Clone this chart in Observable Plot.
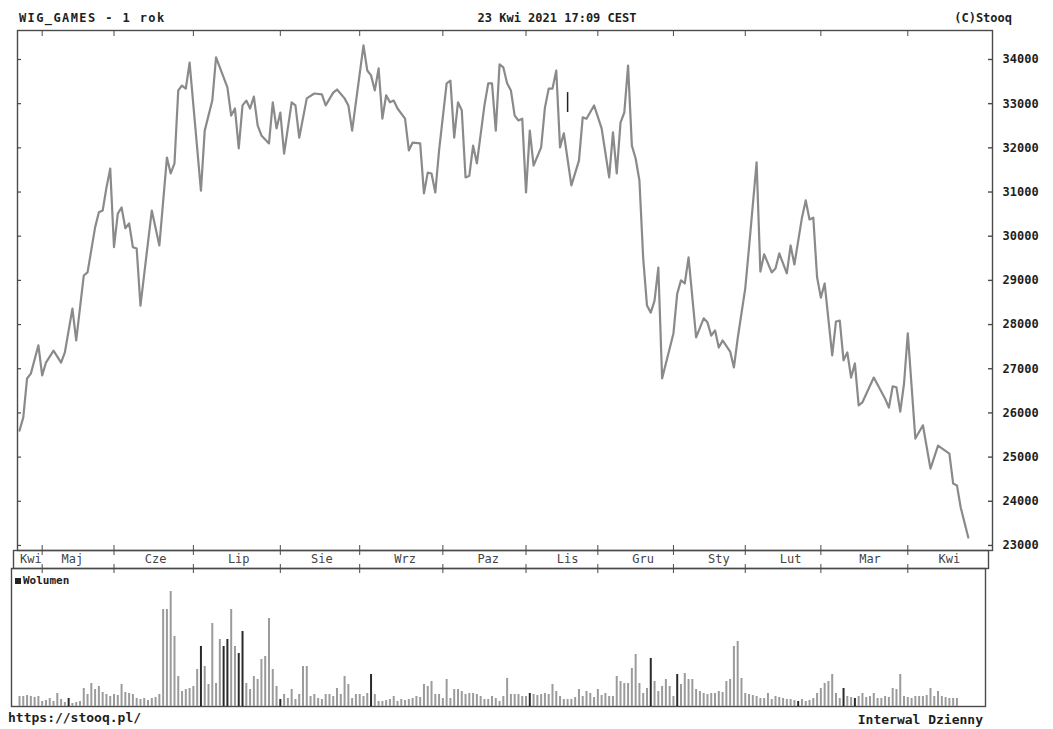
<!DOCTYPE html>
<html><head><meta charset="utf-8">
<script src="https://cdn.jsdelivr.net/npm/d3@7"></script>
<script src="https://cdn.jsdelivr.net/npm/@observablehq/plot@0.6"></script>
<style>
body{margin:0;background:#fff;}
#wrap{position:relative;width:1053px;height:729px;overflow:hidden;font-family:"DejaVu Sans Mono",monospace;font-weight:bold;color:#1e1e1e;}
.t{position:absolute;font-size:12px;white-space:nowrap;line-height:14px;}
.p{position:absolute;left:0;}
</style></head><body>
<div id="wrap">
  <div class="t" style="left:19px;top:11px;letter-spacing:1.4px;">WIG_GAMES - 1 rok</div>
  <div class="t" style="left:557px;top:11px;transform:translateX(-50%);">23 Kwi 2021 17:09 CEST</div>
  <div class="t" style="right:41px;top:11px;">(C)Stooq</div>
  <div class="p" id="main" style="top:30px;"></div>
  <div class="p" id="strip" style="top:550px;"></div>
  <div class="p" id="vol" style="top:568px;"></div>
  <div class="t" style="left:15px;top:574px;font-size:11px;"><span style="display:inline-block;width:6px;height:6px;background:#222;margin-right:2px;"></span>Wolumen</div>
  <div class="t" style="left:8px;top:711px;font-size:13px;">https://stooq.pl/</div>
  <div class="t" style="right:70px;top:713px;font-size:13px;">Interwal Dzienny</div>
</div>
<script>
// ---- price: session number (trading day since 23 Apr 2020) and close ----
const sessions = [0,1,2,3,5,6,7,9,11,12,14,15,17,18,20,21,22,23,24,25,26,27,28,29,30,31,32,35,37,39,40,41,42,43,44,45,48,49,51,52,55,56,57,58,59,60,61,62,63,64,66,67,68,69,70,72,73,74,76,78,80,81,83,84,86,87,88,91,92,93,94,95,96,97,98,99,100,102,103,104,106,107,108,109,110,111,113,114,115,116,117,118,119,120,121,123,124,125,126,127,128,129,130,131,132,133,134,135,136,138,139,140,141,142,143,144,146,148,149,150,152,154,156,157,158,159,160,161,162,163,164,165,166,167,168,169,170,173,174,175,176,177,179,181,182,183,184,185,186,188,189,190,192,193,195,196,197,199,200,201,203,204,205,207,208,209,210,211,212,213,215,216,217,218,219,220,221,222,223,226,229,230,231,232,233,234,235,237,239,241,243,246,247,248,249,251];
const closes = [25600,25900,26780,26890,27530,26850,27140,27410,27140,27370,28360,27640,29110,29180,30200,30540,30580,31100,31530,29750,30510,30650,30180,30290,29750,29720,28430,30580,29790,31780,31420,31650,33300,33410,33340,33930,31030,32390,33070,34050,33370,32730,32890,31990,32960,33070,32890,33160,32510,32280,32100,33030,32440,32800,31870,33030,32960,32230,33120,33230,33210,32960,33250,33320,33120,32960,32390,34320,33750,33640,33300,33800,32660,33190,33030,33070,32890,32660,31940,32120,32100,30970,31440,31420,30990,31940,33460,33520,32230,33030,32850,31330,31370,32050,31650,32960,33460,33460,32390,33890,33820,33460,33300,32730,32620,32660,30990,32390,31600,32010,32910,33340,33340,33750,32010,32330,31150,31710,32690,32660,32960,32440,31330,32350,31420,32570,32800,33860,32050,31760,31260,29500,28430,28270,28540,29290,26780,27800,28700,29000,28930,29520,27710,28140,28050,27750,27870,27480,27640,27390,27030,27690,28820,29750,31670,29200,29590,29180,29270,29610,29160,29790,29360,30420,30810,30380,30420,29070,28610,28930,27300,28070,28090,27190,27370,26800,27120,26170,26240,26800,26320,26120,26600,26580,26030,26660,27800,25420,25720,24740,25260,25080,24400,24360,23860,23180];
// small dark tick seen on the chart (session, low, high)
const markSession = [145], markLow = [32800], markHigh = [33250];

// ---- volume (relative units), one per session from 0 ----
const volume = [10,10,11,10,9,10,5,6,8,5,13,7,4,8,3,4,5,18,12,23,17,20,14,12,10,12,11,22,14,13,12,8,7,8,6,8,9,12,
97,97,115,70,30,15,17,18,20,37,60,40,22,83,23,67,60,67,97,60,53,75,23,17,30,27,47,50,88,37,20,7,12,8,17,7,12,40,40,10,12,8,7,12,12,
10,18,12,30,22,8,12,12,10,13,32,12,5,5,6,7,10,5,7,6,7,8,10,9,22,20,25,12,12,8,27,8,17,17,15,12,13,13,12,10,7,7,10,8,5,10,28,12,12,12,
10,10,13,12,11,12,13,12,22,15,10,7,7,7,9,17,10,15,13,9,17,11,13,10,10,30,25,23,23,38,52,23,13,18,48,25,15,20,27,20,10,32,22,33,27,27,17,15,13,12,13,13,15,14,25,27,60,65,28,13,12,11,10,8,8,13,7,10,9,8,7,7,6,5,7,5,6,8,13,18,23,25,32,13,8,18,10,9,8,10,13,9,10,13,8,8,10,9,18,17,32,10,9,8,10,10,10,11,18,10,15,10,9,8,8,8];
const volumeDark = [13,48,54,55,58,59,69,93,135,167,174,206,218,221];

// ---- axes ----
const priceTicks = [23000,24000,25000,26000,27000,28000,29000,30000,31000,32000,33000,34000];
const monthNames = ["Kwi","Maj","Cze","Lip","Sie","Wrz","Paz","Lis","Gru","Sty","Lut","Mar","Kwi"];
const monthLabelSession = [3,14,36,58,80,102,124,145,165,185,204,225,246];
const monthStartSession = [6,25,46,69,90,112,134,153,173,192,212,235];

// build tables
const price = sessions.map((s,i)=>({s, close: closes[i]}));
const marks = markSession.map((s,i)=>({s, lo: markLow[i], hi: markHigh[i]}));
const vol = volume.map((v,s)=>({s, v, dark: volumeDark.includes(s)}));
const months = monthNames.map((name,i)=>({name, s: monthLabelSession[i]}));

// layout: session s sits at page x = 19 + 3.78*s
const W = 1053, px0 = 19, step = 3.78;
const dom = (l, r) => [(l-px0)/step, (r-px0)/step];
const FRAME = "#4a4a4a";
const blank = () => "";
const style = {fontFamily:"'DejaVu Sans Mono', monospace", fontWeight:"bold", fontSize:"12px", color:"#1e1e1e", background:"transparent", overflow:"visible"};

const mainL = 17, mainR = 992;
const main = Plot.plot({
  width: W, height: 520, marginLeft: mainL, marginRight: W-mainR, marginTop: 0, marginBottom: 0,
  style,
  x: {domain: dom(mainL, mainR), label: null},
  y: {domain: [22886, 34656], label: null},
  marks: [
    Plot.frame({stroke: FRAME, strokeWidth: 1.4}),
    Plot.axisY({anchor:"right", label: null, ticks: priceTicks, tickSize: -5, tickFormat: blank, stroke: FRAME, strokeWidth: 1.4}),
    Plot.axisY({anchor:"left", label: null, ticks: priceTicks, tickSize: -4, tickFormat: blank, stroke: FRAME, strokeWidth: 1.2}),
    Plot.axisY({anchor:"right", label: null, ticks: priceTicks, tickSize: 0, tickPadding: 10, tickFormat: d => String(d), fontSize: 12, fontWeight: "bold", fill: "#1e1e1e", letterSpacing: "1.5px"}),
    Plot.axisX({anchor:"top", label: null, ticks: monthStartSession, tickSize: -5, tickFormat: blank, stroke: FRAME}),
    Plot.axisX({anchor:"bottom", label: null, ticks: monthStartSession, tickSize: -5, tickFormat: blank, stroke: FRAME}),
    Plot.line(price, {x: "s", y: "close", stroke: "#8a8a8a", strokeWidth: 2.2, strokeLinejoin: "round"}),
    Plot.ruleX(marks, {x: "s", y1: "lo", y2: "hi", stroke: "#222", strokeWidth: 1.5})
  ]
});
document.getElementById("main").append(main);

const stripL = 13, stripR = 988;
const strip = Plot.plot({
  width: W, height: 18, marginLeft: stripL, marginRight: W-stripR, marginTop: 0, marginBottom: 0,
  style,
  x: {domain: dom(stripL, stripR), label: null},
  marks: [
    Plot.frame({stroke: FRAME, strokeWidth: 1.4}),
    Plot.axisX({anchor:"top", label: null, ticks: monthStartSession, tickSize: -4, tickFormat: blank, stroke: FRAME}),
    Plot.axisX({anchor:"bottom", label: null, ticks: monthStartSession, tickSize: -4, tickFormat: blank, stroke: FRAME}),
    Plot.text(months, {x: "s", text: "name", frameAnchor: "middle", fontSize: 12, fill: "#444", fontWeight: "normal"})
  ]
});
document.getElementById("strip").append(strip);

const volL = 11, volR = 985;
const volPlot = Plot.plot({
  width: W, height: 140, marginLeft: volL, marginRight: W-volR, marginTop: 0, marginBottom: 2,
  style,
  x: {domain: dom(volL, volR), label: null},
  y: {domain: [0, 138], axis: null, label: null},
  marks: [
    Plot.frame({stroke: FRAME, strokeWidth: 1.4}),
    Plot.axisX({anchor:"top", label: null, ticks: monthStartSession, tickSize: -4, tickFormat: blank, stroke: FRAME}),
    Plot.ruleX(vol.filter(d => !d.dark), {x: "s", y1: 0, y2: "v", stroke: "#9b9b9b", strokeWidth: 2}),
    Plot.ruleX(vol.filter(d => d.dark), {x: "s", y1: 0, y2: "v", stroke: "#2a2a2a", strokeWidth: 2})
  ]
});
document.getElementById("vol").append(volPlot);
</script>
</body></html>
